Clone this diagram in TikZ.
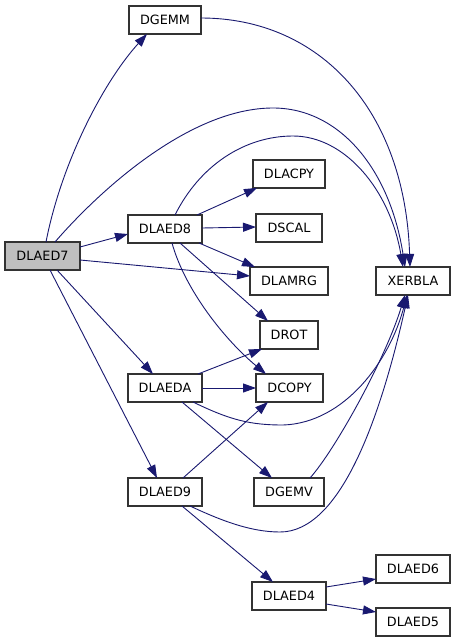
\documentclass[tikz,border=0pt]{standalone}
\usepackage{fontspec}
\setmainfont{DejaVu Sans}
\usetikzlibrary{calc,arrows.meta}
\definecolor{edgeblue}{RGB}{25,25,112}
\definecolor{nodegray}{RGB}{191,191,191}
\begin{document}
\begin{tikzpicture}[x=1pt,y=-1pt,
  fn/.style={draw=black!80,line width=1.1pt,fill=white,inner sep=0pt,minimum height=28pt,font=\fontsize{12.8}{14}\selectfont},
  root/.style={fn,fill=nodegray},
  call/.style={draw=edgeblue,line width=0.9pt,-{Triangle[length=13pt,width=9pt]}}]
\useasboundingbox (0,0) rectangle (456,643);
\fill[white] (0,0) rectangle (456,643);
% nodes
\node[fn,minimum width=72pt] (GEMM) at (165,20) {DGEMM};
\node[fn,minimum width=72pt] (LACPY) at (289,174) {DLACPY};
\node[fn,minimum width=74pt] (L8) at (165,229) {DLAED8};
\node[fn,minimum width=66pt] (SCAL) at (289,228) {DSCAL};
\node[root,minimum width=75pt] (L7) at (42.5,256) {DLAED7};
\node[fn,minimum width=78pt] (MRG) at (289,281) {DLAMRG};
\node[fn,minimum width=74pt] (XER) at (413,281) {XERBLA};
\node[fn,minimum width=58pt] (ROT) at (289,335) {DROT};
\node[fn,minimum width=74pt] (EDA) at (165,388) {DLAEDA};
\node[fn,minimum width=67pt] (COPY) at (289.5,388) {DCOPY};
\node[fn,minimum width=74pt] (L9) at (165,492) {DLAED9};
\node[fn,minimum width=70pt] (GEMV) at (289,492) {DGEMV};
\node[fn,minimum width=74pt] (L6) at (413,569) {DLAED6};
\node[fn,minimum width=74pt] (L4) at (289,596) {DLAED4};
\node[fn,minimum width=74pt] (L5) at (413,622) {DLAED5};
% waypoints of curved connectors
\coordinate (p7x) at (273,108);
\coordinate (p8x) at (293,136);
\coordinate (pax) at (283,425);
\coordinate (p9x) at (280,532);
% connectors
\draw[call] ($(L7)+(3.5,-14)$) .. controls (62,160) and (105,80) .. ($(GEMM)+(-18,14)$);
\draw[call] ($(L7)+(12.5,-14)$) .. controls (100,190) and (190,108) .. (p7x)
  .. controls (340,108) and (390,170) .. ($(XER)+(-8,-14)$);
\draw[call] ($(GEMM)+(36,-2)$) .. controls (320,18) and (405,110) .. ($(XER)+(-3,-14)$);
\draw[call] ($(L8)+(10,-14)$) .. controls (200,165) and (245,136) .. (p8x)
  .. controls (345,136) and (390,190) .. ($(XER)+(-10,-14)$);
\draw[call] ($(L7)+(37.5,-9)$) -- ($(L8)+(-37,5)$);
\draw[call] ($(L7)+(37.5,4)$) -- ($(MRG)+(-39,-5)$);
\draw[call] ($(L7)+(14.5,14)$) -- ($(EDA)+(-12,-14)$);
\draw[call] ($(L7)+(7.5,14)$) -- ($(L9)+(-8,-14)$);
\draw[call] ($(L8)+(32,-14)$) -- ($(LACPY)+(-32,14)$);
\draw[call] ($(L8)+(37,-1)$) -- ($(SCAL)+(-33,-1)$);
\draw[call] ($(L8)+(34,14)$) -- ($(MRG)+(-34,-14)$);
\draw[call] ($(L8)+(15,14)$) -- ($(ROT)+(-21,-14)$);
\draw[call] ($(L8)+(7,14)$) .. controls (185,290) and (225,340) .. ($(COPY)+(-23.5,-14)$);
\draw[call] ($(EDA)+(33,-14)$) -- ($(ROT)+(-27,14)$);
\draw[call] ($(EDA)+(37,0)$) -- ($(COPY)+(-33.5,0)$);
\draw[call] ($(EDA)+(28,14)$) .. controls (230,420) and (250,425) .. (pax)
  .. controls (345,423) and (390,360) .. ($(XER)+(-6,14)$);
\draw[call] ($(EDA)+(17,14)$) -- ($(GEMV)+(-17,-14)$);
\draw[call] ($(L9)+(18,-14)$) -- ($(COPY)+(-21.5,14)$);
\draw[call] ($(GEMV)+(21,-14)$) .. controls (335,450) and (385,360) .. ($(XER)+(-8,14)$);
\draw[call] ($(L9)+(25,14)$) .. controls (220,520) and (250,532) .. (p9x)
  .. controls (340,532) and (380,420) .. ($(XER)+(-5,14)$);
\draw[call] ($(L9)+(17,14)$) -- ($(L4)+(-16,-14)$);
\draw[call] ($(L4)+(37,-9)$) -- ($(L6)+(-37,10)$);
\draw[call] ($(L4)+(37,8)$) -- ($(L5)+(-37,-10)$);
\end{tikzpicture}
\end{document}
